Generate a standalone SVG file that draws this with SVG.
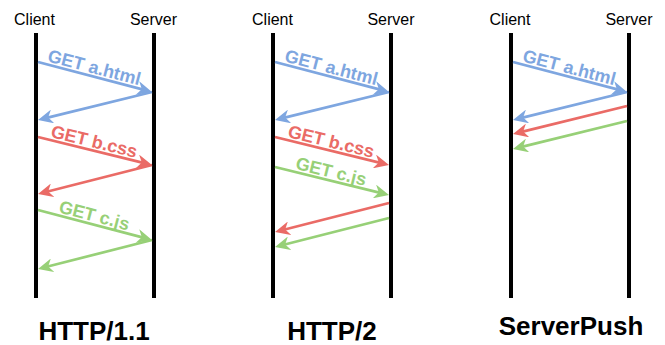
<svg xmlns="http://www.w3.org/2000/svg" width="665" height="345" viewBox="0 0 665 345">
<style>
.lbl{font-family:"Liberation Sans",Arial,sans-serif;font-size:16px;fill:#000}
.title{font-family:"Liberation Sans",Arial,sans-serif;font-size:26px;font-weight:bold;fill:#000;text-anchor:middle}
.msg{font-family:"Liberation Sans",Arial,sans-serif;font-size:18px;font-weight:bold;text-anchor:middle}
.life{stroke:#000;stroke-width:4;fill:none}
.a{fill:none;stroke-width:2.7}
.blue{stroke:#7EA6E0}
.red{stroke:#EA6B66}
.green{stroke:#97D077}
</style>
<defs>
<marker id="mb" markerUnits="userSpaceOnUse" markerWidth="16" markerHeight="14" refX="5" refY="7" orient="auto"><path d="M15,7 L0,0 L4.5,7 L0,14 Z" fill="#7EA6E0"/></marker>
<marker id="mr" markerUnits="userSpaceOnUse" markerWidth="16" markerHeight="14" refX="5" refY="7" orient="auto"><path d="M15,7 L0,0 L4.5,7 L0,14 Z" fill="#EA6B66"/></marker>
<marker id="mg" markerUnits="userSpaceOnUse" markerWidth="16" markerHeight="14" refX="5" refY="7" orient="auto"><path d="M15,7 L0,0 L4.5,7 L0,14 Z" fill="#97D077"/></marker>
</defs>
<rect width="665" height="345" fill="#fff"/>

<g id="http11">
<text class="lbl" x="34.5" y="25" text-anchor="middle">Client</text>
<text class="lbl" x="153.5" y="25" text-anchor="middle">Server</text>
<line class="life" x1="36" y1="33" x2="36" y2="298"/>
<line class="life" x1="154" y1="33" x2="154" y2="298"/>
<text class="title" x="94" y="340">HTTP/1.1</text>
</g>

<g id="http2">
<text class="lbl" x="272.5" y="25" text-anchor="middle">Client</text>
<text class="lbl" x="391" y="25" text-anchor="middle">Server</text>
<line class="life" x1="273" y1="33" x2="273" y2="298"/>
<line class="life" x1="391" y1="33" x2="391" y2="298"/>
<text class="title" x="332" y="340">HTTP/2</text>
</g>

<g id="serverpush">
<text class="lbl" x="510" y="25" text-anchor="middle">Client</text>
<text class="lbl" x="629" y="25" text-anchor="middle">Server</text>
<line class="life" x1="511" y1="33" x2="511" y2="298"/>
<line class="life" x1="629" y1="33" x2="629" y2="298"/>
<text class="title" x="571" y="335">ServerPush</text>
</g>

<g id="connectors">
<line class="a blue" x1="38" y1="62" x2="142.3" y2="89.4" marker-end="url(#mb)"/>
<line class="a blue" x1="152" y1="92" x2="47.7" y2="117.6" marker-end="url(#mb)"/>
<line class="a red" x1="38" y1="137" x2="142.3" y2="162.6" marker-end="url(#mr)"/>
<line class="a red" x1="152" y1="165" x2="47.7" y2="191.5" marker-end="url(#mr)"/>
<line class="a green" x1="38" y1="210" x2="142.3" y2="237.4" marker-end="url(#mg)"/>
<line class="a green" x1="152" y1="240" x2="47.7" y2="266.5" marker-end="url(#mg)"/>

<line class="a blue" x1="275" y1="62" x2="379.3" y2="89.4" marker-end="url(#mb)"/>
<line class="a blue" x1="389" y1="92" x2="284.7" y2="117.6" marker-end="url(#mb)"/>
<line class="a red" x1="275" y1="137" x2="379.3" y2="162.6" marker-end="url(#mr)"/>
<line class="a green" x1="275" y1="167" x2="379.3" y2="192.6" marker-end="url(#mg)"/>
<line class="a red" x1="389" y1="203" x2="284.7" y2="229.5" marker-end="url(#mr)"/>
<line class="a green" x1="389" y1="218" x2="284.7" y2="244.5" marker-end="url(#mg)"/>

<line class="a blue" x1="513" y1="62" x2="617.3" y2="89.4" marker-end="url(#mb)"/>
<line class="a blue" x1="627" y1="92" x2="522.7" y2="117.6" marker-end="url(#mb)"/>
<line class="a red" x1="627" y1="106" x2="522.7" y2="131.6" marker-end="url(#mr)"/>
<line class="a green" x1="627" y1="121" x2="522.7" y2="146.6" marker-end="url(#mg)"/>

<text class="msg" fill="#7EA6E0" transform="translate(92,76.2) rotate(14.7)" y="-3">GET a.html</text>
<text class="msg" fill="#EA6B66" transform="translate(92,150.3) rotate(13.8)" y="-3">GET b.css</text>
<text class="msg" fill="#97D077" transform="translate(92,224.2) rotate(14.7)" y="-3">GET c.js</text>

<text class="msg" fill="#7EA6E0" transform="translate(329,76.2) rotate(14.7)" y="-3">GET a.html</text>
<text class="msg" fill="#EA6B66" transform="translate(329,150.3) rotate(13.8)" y="-3">GET b.css</text>
<text class="msg" fill="#97D077" transform="translate(329,180.3) rotate(13.8)" y="-3">GET c.js</text>

<text class="msg" fill="#7EA6E0" transform="translate(567,76.2) rotate(14.7)" y="-3">GET a.html</text>
</g>
</svg>
